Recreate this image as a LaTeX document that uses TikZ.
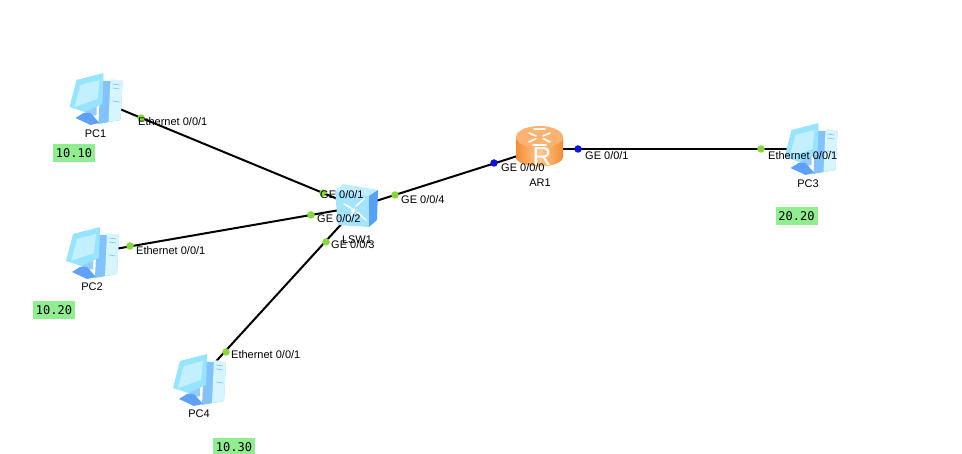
\documentclass[tikz,border=0pt]{standalone}
\usepackage{fontspec}
\setmainfont{Liberation Sans}
\newfontfamily\addrfont{DejaVu Sans Mono}
\definecolor{pcpale}{RGB}{215,245,255}
\definecolor{pcsky}{RGB}{150,228,255}
\definecolor{pcscreen}{RGB}{195,240,255}
\definecolor{pcmid}{RGB}{130,195,255}
\definecolor{pcdeep}{RGB}{95,160,250}
\definecolor{swtop}{RGB}{190,238,255}
\definecolor{swfront}{RGB}{165,228,255}
\definecolor{swside}{RGB}{85,160,250}
\definecolor{rtlight}{RGB}{255,200,145}
\definecolor{rttop}{RGB}{252,178,112}
\definecolor{rtdark}{RGB}{245,140,50}
\definecolor{addrbg}{RGB}{144,238,144}
\definecolor{portgreen}{RGB}{135,215,60}
\definecolor{portblue}{RGB}{10,20,225}
\tikzset{
  x=1pt,y=-1pt,
  device/.style={inner sep=0pt,minimum width=52pt,minimum height=52pt},
  link/.style={line width=2pt,black},
  portdot/.style={circle,inner sep=0pt,minimum size=7.5pt,fill=#1},
  portname/.style={anchor=west,inner sep=0pt,font=\fontsize{11}{11}\selectfont},
  devname/.style={anchor=center,inner sep=0pt,font=\fontsize{11}{11}\selectfont},
  addr/.style={anchor=center,fill=addrbg,inner sep=0pt,minimum width=42pt,minimum height=18pt,font=\addrfont\fontsize{12}{12}\selectfont},
}
% Desktop computer icon, drawn around its centre
\newcommand{\pcicon}[1]{%
  \begin{scope}[shift={(#1)},shift={(-26,-26)}]
    % tower
    \fill[pcmid] (31,8) -- (53,8) -- (51,47) -- (29,51) -- cycle;
    \fill[pcpale] (41,6) -- (53,8) -- (51,47) -- (39,49) -- cycle;
    \draw[pcmid,line width=.7pt] (43,11) -- (50,12) (43,15) -- (50,16) (43,28) -- (50,29);
    % stand and foot
    \fill[pcmid!85!white] (14,36) -- (27,30) -- (27,42) -- (18,44) -- cycle;
    \fill[pcdeep] (6,45) -- (14,40) -- (21,40) -- (30,50) -- (21,52) -- cycle;
    % monitor
    \fill[pcsky] (7,7) -- (34,0) -- (33,31) -- (15,39) -- (0,34) -- cycle;
    \fill[pcscreen] (11,12) -- (30,7) -- (28,26) -- (5,34) -- cycle;
  \end{scope}}
% Workgroup switch icon: a cube with four arrows on its front face
\newcommand{\swicon}[1]{%
  \begin{scope}[shift={(#1)},shift={(-357,-207)}]
    \fill[swtop] (335,191) -- (343,184) -- (378,190) -- (369,196) -- cycle;
    \fill[swfront] (335,191) -- (369,196) -- (369,227) -- (338,225) -- cycle;
    \fill[swside] (369,196) -- (378,190) -- (377,220) -- (369,227) -- cycle;
    \draw[white,line width=1.5pt,line cap=round]
      (344,204) -- (351,208) (364,199) -- (356,206) (347,220) -- (353,213) (366,220) -- (357,212);
    \fill[white] (353,210) circle (2.2);
  \end{scope}}
% Router icon: an orange cylinder with an R on its side
\newcommand{\rticon}[1]{%
  \begin{scope}[shift={(#1)},shift={(-539.5,-149)}]
    \shade[left color=rtdark,right color=rtdark,middle color=rtlight]
      (516,137) -- (516,157) arc[start angle=180,end angle=0,x radius=23.5,y radius=9.5] -- (563,137) -- cycle;
    \fill[rttop] (539.5,137) ellipse [x radius=23.5,y radius=11];
    \draw[white,line width=1.6pt,line cap=round]
      (529,133) -- (536,136) (550,133) -- (543,136) (529,142) -- (536,138.5) (550,142) -- (543,138.5)
      (534,129) -- (545,129) (533,145) -- (546,145);
    \node[inner sep=0pt,text=white,font=\fontsize{26}{26}\selectfont] at (542,157) {R};
  \end{scope}}

\begin{document}
\begin{tikzpicture}
  \useasboundingbox (0,0) rectangle (962,454);

  % Device placeholders used as connection points
  \node[device] (pc1) at (95.5,99) {};
  \node[device] (pc2) at (92,253) {};
  \node[device] (pc4) at (199,380) {};
  \node[device] (pc3) at (810.5,149) {};
  \node[device] (lsw) at (357,207) {};
  \node[device] (ar)  at (539.5,149) {};

  % Cabling
  \draw[link] (pc1.center) -- (lsw.center);
  \draw[link] (pc2.center) -- (lsw.center);
  \draw[link] (pc4.center) -- (lsw.center);
  \draw[link] (lsw.center) -- (ar.center);
  \draw[link] (ar.center) -- (pc3.center);

  % Device icons
  \pcicon{pc1.center}
  \pcicon{pc2.center}
  \pcicon{pc4.center}
  \pcicon{pc3.center}
  \swicon{lsw.center}
  \rticon{ar.center}

  % Port markers
  \node[portdot=portgreen] (d1) at (141,118) {};
  \node[portdot=portgreen] (d2) at (323,193) {};
  \node[portdot=portgreen] (d3) at (130,246) {};
  \node[portdot=portgreen] (d4) at (311,215) {};
  \node[portdot=portgreen] (d5) at (326,242) {};
  \node[portdot=portgreen] (d6) at (226,352) {};
  \node[portdot=portgreen] (d7) at (395,195) {};
  \node[portdot=portblue]  (d8) at (494,163) {};
  \node[portdot=portblue]  (d9) at (578,149) {};
  \node[portdot=portgreen] (d10) at (761,149) {};

  % Port labels
  \node[portname] (l1) at (138,122) {Ethernet 0/0/1};
  \node[portname] (l2) at (320,195) {GE 0/0/1};
  \node[portname] (l3) at (136,251) {Ethernet 0/0/1};
  \node[portname] (l4) at (317,219) {GE 0/0/2};
  \node[portname] (l5) at (331,244.5) {GE 0/0/3};
  \node[portname] (l6) at (231,354.5) {Ethernet 0/0/1};
  \node[portname] (l7) at (401,199.5) {GE 0/0/4};
  \node[portname] (l8) at (501,168) {GE 0/0/0};
  \node[portname] (l9) at (585,155.5) {GE 0/0/1};
  \node[portname] (l10) at (768,155.5) {Ethernet 0/0/1};

  % Device names
  \node[devname] (n1) at (95.5,133.5) {PC1};
  \node[devname] (n2) at (92,286.5) {PC2};
  \node[devname] (n3) at (808,183.5) {PC3};
  \node[devname] (n4) at (199,413.5) {PC4};
  \node[devname] (n5) at (357,239.5) {LSW1};
  \node[devname] (n6) at (540,183) {AR1};

  % Address notes
  \node[addr] (a1) at (74,153) {10.10};
  \node[addr] (a2) at (54,310) {10.20};
  \node[addr] (a3) at (796.5,216) {20.20};
  \node[addr] (a4) at (234,447) {10.30};
\end{tikzpicture}
\end{document}
